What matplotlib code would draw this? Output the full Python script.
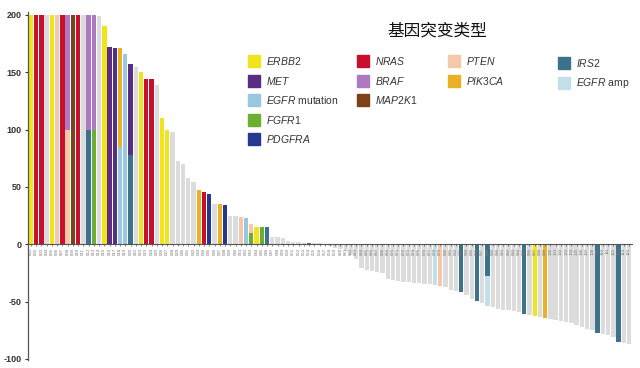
import matplotlib
matplotlib.use('Agg')
import matplotlib.pyplot as plt
from matplotlib.patches import Rectangle

plt.rcParams['font.family'] = ['Liberation Sans', 'DejaVu Sans']
plt.rcParams['axes.unicode_minus'] = False
plt.rcParams['mathtext.fontset'] = 'custom'
plt.rcParams['mathtext.it'] = 'Liberation Sans:italic'
plt.rcParams['mathtext.rm'] = 'Liberation Sans'

# best change from baseline per patient, sorted (capped at 200)
values = [200, 200, 200, 200, 200, 200, 200, 200, 200, 200,
          200, 200, 200, 199, 190, 172, 171, 171, 166, 157,
          155, 150, 144, 144, 139, 110, 100, 98, 73, 70,
          58, 54, 47, 46, 44, 35, 35, 34, 25, 25,
          24, 23, 18, 15, 15, 15, 6.5, 6, 5.5, 2.5,
          2, 2, 1.5, 1.5, 1, 0.8, 0.5, -1.5, -3, -4,
          -6, -9, -13, -21, -22, -23, -24, -25, -30, -31,
          -32, -33, -33, -33.5, -34, -34.5, -35, -35.5, -36, -37,
          -40, -41, -41.5, -44, -48, -49.5, -51, -54, -55, -56,
          -57, -57.5, -58, -59, -61, -61.5, -62.5, -63, -64.5, -65,
          -66, -67, -68, -69, -70, -72, -74, -75, -77.5, -78,
          -79, -81, -85.5, -86, -86.5]

# gene of the outer bar segment (bars not listed are grey)
mutated = {0: "ERBB2", 1: "NRAS", 2: "NRAS", 4: "ERBB2", 5: "PTEN", 6: "NRAS",
           7: "BRAF", 8: "MAP2K1", 9: "NRAS", 11: "BRAF", 12: "BRAF",
           14: "ERBB2", 15: "MET", 16: "MET", 17: "PIK3CA", 18: "EGFR mutation",
           19: "MET", 21: "ERBB2", 22: "NRAS", 23: "NRAS", 25: "ERBB2", 26: "ERBB2",
           32: "PIK3CA", 33: "NRAS", 34: "PDGFRA", 36: "PIK3CA", 37: "PDGFRA",
           40: "PTEN", 41: "EGFR mutation", 42: "PTEN", 43: "ERBB2", 44: "FGFR1",
           45: "IRS2", 53: "IRS2", 77: "EGFR amp", 78: "PTEN", 82: "IRS2",
           85: "IRS2", 87: "EGFR amp", 94: "IRS2", 96: "ERBB2", 98: "PIK3CA",
           108: "IRS2", 112: "IRS2"}

# second alteration drawn from 0 up to the given value
inner = {7: ("PTEN", 100), 11: ("IRS2", 100), 12: ("FGFR1", 100),
         17: ("EGFR mutation", 85), 19: ("IRS2", 78), 42: ("FGFR1", 10),
         87: ("IRS2", -28)}

gene_colors = {"ERBB2": "#F2E41C", "MET": "#5A2D84", "EGFR mutation": "#97C8DF",
               "FGFR1": "#6BAE32", "PDGFRA": "#26378E", "NRAS": "#C8102E",
               "BRAF": "#AE78C2", "MAP2K1": "#7E4018", "PTEN": "#F6C8AA",
               "PIK3CA": "#EBB126", "IRS2": "#3D728C", "EGFR amp": "#C2E0EA"}
grey = "#DCDCDC"

legend_columns = [["ERBB2", "MET", "EGFR mutation", "FGFR1", "PDGFRA"],
                  ["NRAS", "BRAF", "MAP2K1"],
                  ["PTEN", "PIK3CA"],
                  ["IRS2", "EGFR amp"]]

W, H = 640, 368
fig = plt.figure(figsize=(W / 100, H / 100), dpi=100)
ax = fig.add_axes([28 / W, 1 - 359 / H, (632 - 28) / W, (359 - 15) / H])

x = list(range(len(values)))
colors = [gene_colors.get(mutated.get(i, ""), grey) for i in x]
ax.bar(x, values, width=0.82, color=colors, linewidth=0, zorder=1)
ix = list(inner.keys())
ax.bar(ix, [inner[i][1] for i in ix], width=0.82,
       color=[gene_colors[inner[i][0]] for i in ix], linewidth=0, zorder=1.1)

ax.set_xlim(-0.55, len(values) - 0.45)
ax.set_ylim(-100, 200)
ax.set_yticks([200, 150, 100, 50, 0, -50, -100])
ax.tick_params(axis='y', labelsize=6.5, colors='#333333', length=2.5, width=0.8, pad=2)
for lab in ax.get_yticklabels():
    lab.set_fontweight('bold')
ax.tick_params(axis='x', length=1.5, width=0.5, colors='#555555', pad=0.8,
               labelsize=3.2, labelrotation=90, labelcolor='#7a7a7a')
ax.set_xticks(x)
ax.set_xticklabels([f"{i + 1:03d}" for i in x])
for s in ['top', 'right']:
    ax.spines[s].set_visible(False)
ax.spines['bottom'].set_position(('data', 0))
ax.spines['bottom'].set_color('#555555')
ax.spines['bottom'].set_linewidth(0.8)
ax.spines['left'].set_color('#555555')
ax.spines['left'].set_linewidth(0.9)
ax.spines['left'].set_bounds(-101, 203)


def legend_label(name):
    parts = name.split(" ", 1)
    text = r"$\mathit{" + parts[0] + "}$"
    if len(parts) > 1:
        text += " " + parts[1]
    return text


# legend drawn in figure pixels
fig.text(437 / W, 1 - 31 / H, "基因突变类型", family=['Noto Sans CJK SC', 'DejaVu Sans'],
         fontsize=12, ha='center', va='center', color='#111111')
col_x = [248, 357, 448, 558]
row_y = [61, 81, 100, 120, 139]
for c, col in enumerate(legend_columns):
    for r, name in enumerate(col):
        yc = row_y[r] + (2 if c == 3 else 0)
        fig.patches.append(Rectangle((col_x[c] / W, 1 - (yc + 6) / H), 12 / W, 12 / H,
                                     transform=fig.transFigure, color=gene_colors[name]))
        fig.text((col_x[c] + 18) / W, 1 - yc / H, legend_label(name), fontsize=7.5,
                 va='center', ha='left', color='#333333')

fig.savefig('out.png', dpi=100)
